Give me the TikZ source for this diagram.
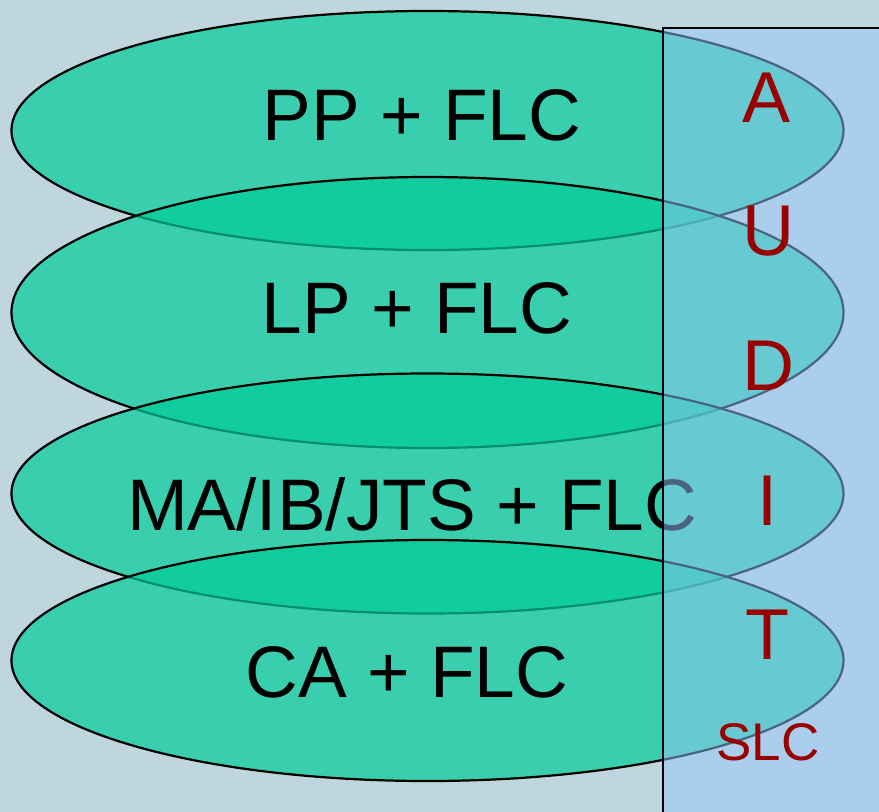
\documentclass[tikz,border=0pt]{standalone}
\usepackage{fontspec}
\setmainfont{Liberation Sans}
\usepackage{tikz}
\usetikzlibrary{shapes.geometric}

\definecolor{bgblue}{RGB}{192,214,222}
\definecolor{layergreen}{RGB}{0,204,153}
\definecolor{auditblue}{RGB}{150,200,250}
\definecolor{auditred}{RGB}{153,0,0}

\begin{document}
\begin{tikzpicture}[x=1pt, y=-1pt,
	layer/.style = {draw, ellipse, line width=2.2pt, fill=layergreen, fill opacity=0.7, minimum width=832pt, inner sep=0pt},
	lbl/.style = {anchor=base, inner sep=0pt, text=black, font=\fontsize{73}{80}\selectfont},
	letter/.style = {anchor=base, inner sep=0pt, text=auditred, font=\fontsize{72}{80}\selectfont}]
				\useasboundingbox (0,0) rectangle (879,812);
				\clip (0,0) rectangle (879,812);
				\fill[bgblue] (0,0) rectangle (879,812);
				
				\node[layer, minimum height=239pt] (pp) at (427.5,130.5) {};
				\node[lbl] (ppt) at (422,140) {PP + FLC};
				\node[layer, minimum height=271pt] (lp) at (427.5,312.5) {};
				\node[lbl] (lpt) at (417,333) {LP + FLC};
				\node[layer, minimum height=240pt] (ma) at (427.5,493.5) {};
				\node[lbl] (mat) at (412,530) {MA/IB/JTS + FLC};
				\node[layer, minimum height=241pt] (ca) at (427.5,660.5) {};
				\node[lbl] (cat) at (407,697) {CA + FLC};
				
				% audit column
				\draw[line width=1.5pt, fill=auditblue, fill opacity=0.5] (663,28) rectangle (900,830);
				\node[letter] (a) at (767,122) {A};
				\node[letter] (u) at (768,255) {U};
				\node[letter] (d) at (768,390) {D};
				\node[letter] (i) at (767,525) {I};
				\node[letter] (t) at (767,659) {T};
				\node[letter, font=\fontsize{53}{60}\selectfont] (slc) at (768,760) {SLC};
			\end{tikzpicture}
\end{document}
